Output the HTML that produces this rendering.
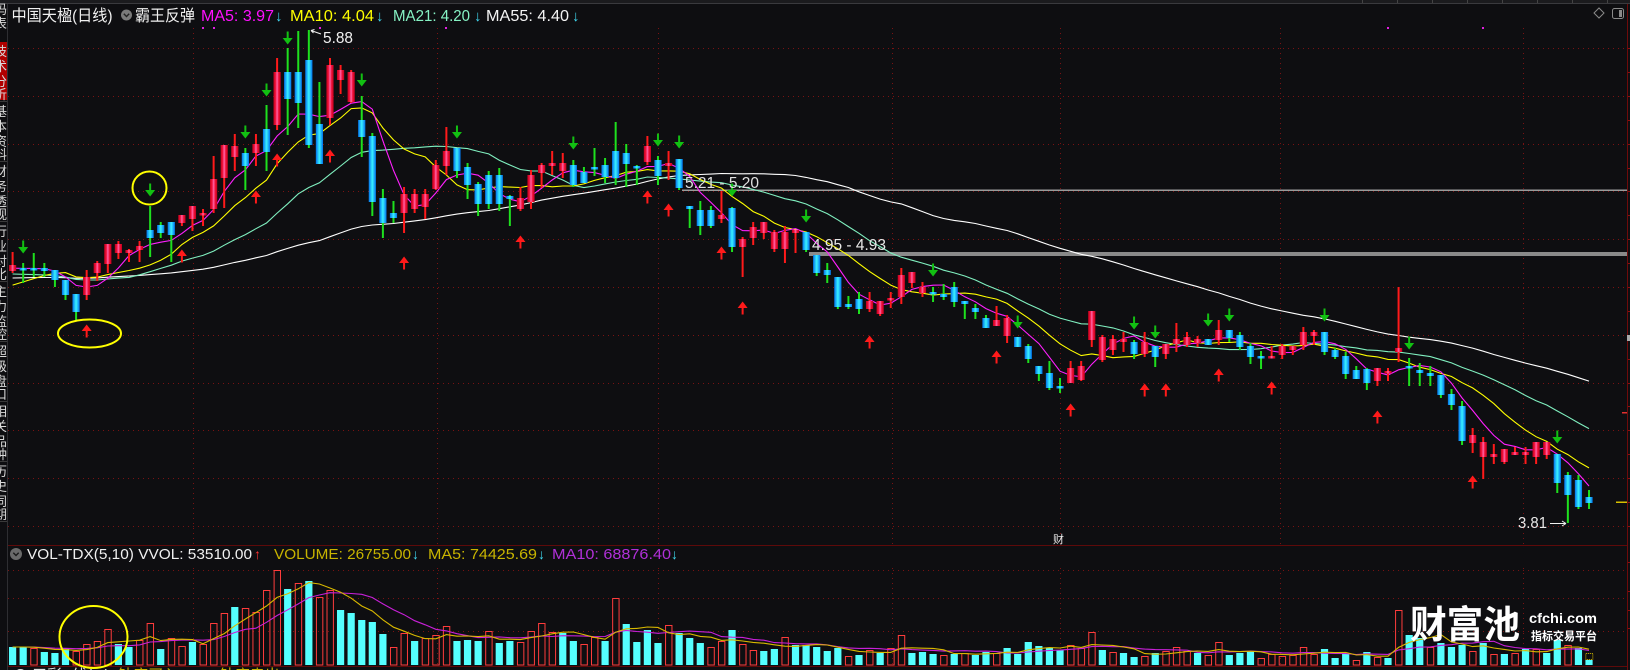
<!DOCTYPE html>
<html><head><meta charset="utf-8">
<style>
html,body{margin:0;padding:0;background:#0e0e11;}
body{width:1630px;height:670px;overflow:hidden;position:relative;}
svg{position:absolute;left:0;top:0;display:block;}
text{font-family:"Liberation Sans","Noto Sans CJK SC",sans-serif;}
</style></head><body>
<svg id="s" width="1630" height="670" viewBox="0 0 1630 670" xmlns="http://www.w3.org/2000/svg">
<defs>
<linearGradient id="gr" x1="0" x2="1" y1="0" y2="0">
<stop offset="0" stop-color="#c0001c"/><stop offset="0.28" stop-color="#f01038"/><stop offset="0.5" stop-color="#ff64a8"/><stop offset="0.72" stop-color="#f01038"/><stop offset="1" stop-color="#c0001c"/>
</linearGradient>
<linearGradient id="gb" x1="0" x2="1" y1="0" y2="0">
<stop offset="0" stop-color="#0070ec"/><stop offset="0.5" stop-color="#3af2ff"/><stop offset="1" stop-color="#0070ec"/>
</linearGradient>
<clipPath id="cm"><rect x="8" y="4" width="1619" height="541"/></clipPath>
<clipPath id="cv"><rect x="8" y="546" width="1619" height="120"/></clipPath>
<clipPath id="cl"><rect x="0" y="0" width="7" height="670"/></clipPath>
</defs>
<rect width="1630" height="670" fill="#0e0e11"/>

<!-- top strip -->
<rect x="0" y="0" width="1630" height="3" fill="#1b1b1e"/>
<line x1="0" y1="3.5" x2="1630" y2="3.5" stroke="#3a3a3e" stroke-width="1"/>

<!-- left toolbar -->
<g clip-path="url(#cl)">
<rect x="0" y="42" width="7" height="58" fill="#b00000"/>
<g fill="#d8d8d8" font-size="13">
<text x="-6" y="14">码</text><text x="-6" y="28">表</text>
<text x="-6" y="56">技</text><text x="-6" y="71">术</text><text x="-6" y="86">分</text><text x="-6" y="99">析</text>
<text x="-6" y="116">基</text><text x="-6" y="131">本</text><text x="-6" y="146">资</text><text x="-6" y="159">料</text>
<text x="-6" y="176">财</text><text x="-6" y="191">务</text><text x="-6" y="206">透</text><text x="-6" y="219">视</text>
<text x="-6" y="236">行</text><text x="-6" y="251">业</text><text x="-6" y="266">对</text><text x="-6" y="279">比</text>
<text x="-6" y="296">主</text><text x="-6" y="311">力</text><text x="-6" y="326">监</text><text x="-6" y="339">控</text>
<text x="-6" y="356">超</text><text x="-6" y="371">级</text><text x="-6" y="386">盘</text><text x="-6" y="399">口</text>
<text x="-6" y="416">相</text><text x="-6" y="431">关</text><text x="-6" y="446">品</text><text x="-6" y="459">种</text>
<text x="-6" y="476">历</text><text x="-6" y="491">史</text><text x="-6" y="506">同</text><text x="-6" y="519">期</text>
</g>
<g stroke="#3a3a3a" stroke-width="1">
<line x1="0" y1="101.5" x2="7" y2="101.5"/><line x1="0" y1="161.5" x2="7" y2="161.5"/><line x1="0" y1="221.5" x2="7" y2="221.5"/><line x1="0" y1="281.5" x2="7" y2="281.5"/><line x1="0" y1="341.5" x2="7" y2="341.5"/><line x1="0" y1="401.5" x2="7" y2="401.5"/><line x1="0" y1="461.5" x2="7" y2="461.5"/><line x1="0" y1="521.5" x2="7" y2="521.5"/>
</g>
</g>
<line x1="7.5" y1="4" x2="7.5" y2="670" stroke="#2e2e32" stroke-width="1"/>

<g id="grid"></g>
<!-- right border -->
<line x1="1627.5" y1="4" x2="1627.5" y2="670" stroke="#6e0b0b" stroke-width="1"/>
<line x1="8" y1="545.5" x2="1627" y2="545.5" stroke="#5e0a0a" stroke-width="1"/>
<line x1="8" y1="666.5" x2="1627" y2="666.5" stroke="#5e0a0a" stroke-width="1"/>

<!-- level lines -->
<rect x="682" y="189.5" width="945" height="1.5" fill="#9a9a9a"/>
<rect x="809" y="252" width="818" height="4" fill="#8a8a8a"/>

<g id="main" clip-path="url(#cm)"></g>
<g id="vol" clip-path="url(#cv)"></g>

<!-- magenta dots -->
<g fill="#e020e0">
<rect x="202" y="27" width="2" height="2"/><rect x="213" y="27" width="2" height="2"/><rect x="319" y="27" width="2" height="2"/><rect x="445" y="27" width="2" height="2"/><rect x="1387" y="27" width="2" height="2"/><rect x="1482" y="27" width="2" height="2"/>
</g>

<!-- title row -->
<text x="11.5" y="21" font-size="16" fill="#f0f0f0" textLength="101" lengthAdjust="spacingAndGlyphs">中国天楹(日线)</text>
<circle cx="126.5" cy="15" r="5.5" fill="#7a7a7a"/>
<path d="M123.8 13.8 L126.5 16.5 L129.2 13.8" stroke="#222" stroke-width="1.4" fill="none"/>
<text x="135" y="21" font-size="16" fill="#f0f0f0" textLength="60" lengthAdjust="spacingAndGlyphs">霸王反弹</text>
<text x="201" y="21" font-size="16" fill="#ff10ff" textLength="73" lengthAdjust="spacingAndGlyphs">MA5: 3.97</text>
<text x="275" y="21" font-size="15" fill="#40d8f0">↓</text>
<text x="290" y="21" font-size="16" fill="#ffff00" textLength="84" lengthAdjust="spacingAndGlyphs">MA10: 4.04</text>
<text x="376" y="21" font-size="15" fill="#40d8f0">↓</text>
<text x="393" y="21" font-size="16" fill="#86f2c4" textLength="77" lengthAdjust="spacingAndGlyphs">MA21: 4.20</text>
<text x="474" y="21" font-size="15" fill="#40d8f0">↓</text>
<text x="486" y="21" font-size="16" fill="#f4f4f4" textLength="83" lengthAdjust="spacingAndGlyphs">MA55: 4.40</text>
<text x="572" y="21" font-size="15" fill="#40d8f0">↓</text>

<!-- right top icons -->
<path d="M1599 8 L1604 13 L1599 18 L1594 13 Z" fill="none" stroke="#8a8a8a" stroke-width="1"/>
<rect x="1612.5" y="8.5" width="11" height="10" rx="2" fill="none" stroke="#8a8a8a" stroke-width="1"/>
<rect x="1619" y="10" width="3" height="7" fill="#8a8a8a"/>

<!-- price annotations -->
<text x="323" y="43" font-size="16" fill="#f0f0f0" textLength="30" lengthAdjust="spacingAndGlyphs">5.88</text>
<path d="M321 34 L311 30.5" stroke="#f0f0f0" stroke-width="1"/>
<path d="M311 30.5 L314.5 29.5 M311 30.5 L313.5 33" stroke="#f0f0f0" stroke-width="1"/>
<text x="685" y="188" font-size="16" fill="#e0e0e0" textLength="74" lengthAdjust="spacingAndGlyphs">5.21 - 5.20</text>
<text x="812" y="250" font-size="16" fill="#e8e8e8" textLength="74" lengthAdjust="spacingAndGlyphs">4.95 - 4.93</text>
<text x="1518" y="528" font-size="16" fill="#e8e8e8" textLength="29" lengthAdjust="spacingAndGlyphs">3.81</text>
<path d="M1550 523.5 L1566 523.5 M1566 523.5 L1562 521 M1566 523.5 L1562 526" stroke="#f0f0f0" stroke-width="1" fill="none"/>
<text x="1053" y="543" font-size="11" fill="#e8e8e8">财</text>

<!-- right side markers -->
<rect x="1622" y="412" width="5" height="1.5" fill="#e03030"/>
<rect x="1616" y="501.5" width="11" height="1.5" fill="#d8c000"/>
<rect x="1627" y="335" width="3" height="6" fill="#aaaaaa"/>

<!-- yellow circles -->
<g fill="none" stroke="#ffff00" stroke-width="2">
<ellipse cx="149.5" cy="188" rx="17" ry="16.5"/>
<ellipse cx="89.5" cy="333.5" rx="31.5" ry="14"/>
<ellipse cx="93.5" cy="637" rx="34" ry="31"/>
</g>

<!-- volume label row -->
<circle cx="16" cy="554" r="6" fill="#6a6a6a"/>
<path d="M13.3 552.8 L16 555.5 L18.7 552.8" stroke="#1a1a1a" stroke-width="1.4" fill="none"/>
<text x="27" y="559" font-size="15" fill="#f0f0f0" textLength="225" lengthAdjust="spacingAndGlyphs">VOL-TDX(5,10) VVOL: 53510.00</text>
<text x="254" y="559" font-size="14" fill="#ff3030">↑</text>
<text x="274" y="559" font-size="15" fill="#c8b400" textLength="137" lengthAdjust="spacingAndGlyphs">VOLUME: 26755.00</text>
<text x="412" y="559" font-size="14" fill="#40d8f0">↓</text>
<text x="428" y="559" font-size="15" fill="#c8b400" textLength="109" lengthAdjust="spacingAndGlyphs">MA5: 74425.69</text>
<text x="538" y="559" font-size="14" fill="#40d8f0">↓</text>
<text x="552" y="559" font-size="15" fill="#b030d8" textLength="119" lengthAdjust="spacingAndGlyphs">MA10: 68876.40</text>
<text x="671" y="559" font-size="14" fill="#40d8f0">↓</text>

<!-- bottom partial row -->
<text x="13" y="680" font-size="15" fill="#e0e0e0">⊙ 五彩K线(...)</text>
<text x="118" y="680" font-size="15" fill="#c8b400">钻底买入: 0.00   钻底卖出: 0.00</text>

<!-- watermark -->
<text x="1410" y="638" font-size="38" font-weight="bold" fill="#ffffff" textLength="110" lengthAdjust="spacingAndGlyphs">财富池</text>
<text x="1529" y="623" font-size="14" font-weight="bold" fill="#ffffff" textLength="68" lengthAdjust="spacingAndGlyphs">cfchi.com</text>
<text x="1531" y="640" font-size="11.5" font-weight="bold" fill="#ffffff" textLength="66" lengthAdjust="spacingAndGlyphs">指标交易平台</text>
</svg>
<script>
(function(){
const NS="http://www.w3.org/2000/svg";
function el(t,a,p){const e=document.createElementNS(NS,t);for(const k in a)e.setAttribute(k,a[k]);p.appendChild(e);return e;}
const X0=12.6,DX=10.58;
const C=[
[271,265,252,273],[268,270,263,283],[268,269,253,277],[268,271,263,277],[270,280,270,287],
[280,295,280,300],[294,312,294,320],[295,277,270,300],[273,263,261,281],[264,244,244,273],
[253,244,241,259],[253,250,249,262],[250,246,241,262],[230,238,206,257],[225,233,222,238],
[222,235,222,262],[223,215,215,226],[219,206,206,231],[215,213,209,226],[209,179,156,213],
[178,145,145,208],[157,146,134,171],[153,166,148,190],[153,144,134,166],[129,152,105,171],
[125,72,58,130],[72,99,48,135],[72,103,31,128],[60,145,30,148],[124,164,82,164],
[118,65,58,125],[80,70,65,94],[102,72,70,103],[120,137,96,157],[136,202,133,216],
[198,223,189,238],[213,218,201,223],[213,194,187,233],[209,194,189,213],[207,194,189,219],
[189,165,160,190],[166,151,127,175],[148,171,148,178],[167,185,163,199],[184,204,182,216],
[175,204,171,209],[175,204,168,211],[196,199,195,226],[209,198,187,211],[202,175,170,209],
[173,165,163,188],[166,163,151,175],[171,163,153,178],[165,185,160,187],[172,183,167,183],
[167,169,148,176],[165,177,158,183],[151,178,122,185],[153,164,144,187],[166,168,165,185],
[162,146,136,165],[160,176,156,185],[166,163,151,180],[159,188,159,190],[206,209,206,228],
[210,226,201,235],[210,226,206,228],[219,215,191,223],[208,247,207,252],[247,239,237,277],
[238,227,222,245],[233,222,222,239],[249,232,230,252],[249,232,226,263],[233,230,230,253],
[232,250,232,252],[255,273,255,276],[270,275,263,283],[277,307,277,309],[304,307,296,309],
[299,309,292,314],[309,301,292,312],[314,301,301,316],[300,298,292,308],[297,275,268,304],
[283,272,272,288],[293,287,282,297],[292,294,287,302],[294,297,284,300],[287,302,282,307],
[301,304,301,319],[308,312,304,319],[318,328,315,328],[326,320,306,326],[336,318,315,343],
[337,347,337,347],[346,359,344,363],[366,374,366,381],[373,388,361,390],[386,388,378,393],
[383,368,361,383],[380,366,361,381],[340,311,311,347],[360,337,335,362],[350,339,335,355],
[342,339,332,352],[342,354,340,359],[354,342,332,357],[346,357,346,367],[354,344,344,359],
[344,339,323,352],[345,337,332,347],[343,339,336,347],[339,345,339,345],[340,330,320,345],
[330,338,330,342],[335,347,332,350],[346,357,343,364],[356,357,351,369],[358,356,346,358],
[355,346,344,359],[350,346,346,355],[345,332,327,350],[336,332,330,345],[332,352,332,355],
[350,357,348,359],[356,374,352,379],[370,379,366,379],[369,383,368,390],[381,368,368,386],
[373,371,368,381],[352,348,287,362],[366,367,358,386],[370,373,363,386],[373,376,366,386],
[375,395,375,398],[394,405,389,410],[406,441,401,445],[443,435,428,453],[457,442,437,479],
[457,454,444,464],[462,449,449,464],[455,452,447,455],[455,452,447,464],[457,442,442,464],
[455,442,442,459],[454,483,454,493],[475,495,472,523],[480,507,475,509],[497,503,490,509]
];
const VT=[647,647,648,652,653,648,651,644,641,629,
644,647,640,623,649,638,646,642,644,623,
613,607,608,612,590,570,589,583,581,597,
590,610,613,620,622,634,647,633,641,638,
635,626,641,640,641,631,643,641,642,631,
623,632,633,641,644,637,641,598,624,642,
630,643,625,633,638,643,647,641,630,644,
650,651,649,637,645,645,647,651,648,656,
655,650,653,648,635,653,652,654,655,654,
653,655,652,653,648,654,642,646,648,650,
645,648,632,650,652,653,657,656,653,651,
647,651,653,655,642,655,653,651,658,654,
656,655,647,654,649,658,654,660,652,657,
658,610,635,638,647,643,647,645,651,643,
654,654,653,649,649,653,640,645,648,660];
const VC="ccrcccrrrr"+"ccrrcrrcrr"+"rcrrrrcrcr"+"rcccccrrcr"+"rrcccrccrr"+"rrccrrcrcc"+"ccrcccrrcr"+"rccrcccccr"+"crcrrcccrc"+"rccrcccccc"+"rrrcrccrcr"+"rrcrrcccrr"+"rrrrcccrcr"+"crccrcccrc"+"rcrcrccrcc";
const RA=[[7,331],[16,256],[23,197],[25,160],[30,156],[37,263],[48,242],[60,197],[62,210],[67,253],[69,308],[81,342],[93,357],[100,410],[107,390],[109,390],[114,375],[119,388],[129,417],[138,482]];
const GA=[[1,247],[13,190],[22,132],[24,90],[26,38],[33,80],[42,132],[53,143],[61,140],[63,142],[68,190],[75,216],[87,270],[95,322],[106,323],[108,332],[113,320],[115,315],[124,315],[132,343],[146,437]];

const grid=document.getElementById('grid');
const gc="#7a1212";
const hY=[48,95.8,143.6,191.4,239.2,287,334.8,382.6,430.4,478.2,526];
hY.forEach(y=>el('line',{x1:8,x2:1627,y1:Math.round(y)+0.5,y2:Math.round(y)+0.5,stroke:gc,'stroke-width':1,'stroke-dasharray':'1 4'},grid));
[570,598,631].forEach(y=>el('line',{x1:8,x2:1627,y1:y+0.5,y2:y+0.5,stroke:gc,'stroke-width':1,'stroke-dasharray':'1 4'},grid));
[193,437,658,892,1060,1280,1523].forEach(x=>{
 el('line',{x1:x+0.5,x2:x+0.5,y1:28,y2:545,stroke:gc,'stroke-width':1,'stroke-dasharray':'1 4'},grid);
 el('line',{x1:x+0.5,x2:x+0.5,y1:568,y2:665,stroke:gc,'stroke-width':1,'stroke-dasharray':'1 4'},grid);
});
for(let y=48;y<545;y+=23.9){el('line',{x1:1627,x2:1630,y1:Math.round(y)+0.5,y2:Math.round(y)+0.5,stroke:'#8b1010','stroke-width':1},grid);}
[562,591,610,628].forEach(y=>el('line',{x1:1627,x2:1630,y1:y+0.5,y2:y+0.5,stroke:'#8b1010','stroke-width':1},grid));
const tx=[1362,1397,1432,1467,1502,1537,1572,1607];
tx.forEach(x=>el('line',{x1:x+0.5,x2:x+0.5,y1:0,y2:3,stroke:'#444','stroke-width':1},grid));

const main=document.getElementById('main');
// MAs
const pre=[];for(let k=0;k<34;k++)pre.push(280.5);for(let k=0;k<11;k++)pre.push(264);for(let k=0;k<5;k++)pre.push(302);for(let k=0;k<4;k++)pre.push(269);
const all=pre.concat(C.map(c=>c[1]));
function ma(arr,off,n,i){let s=0;for(let k=0;k<n;k++)s+=arr[off+i-k];return s/n;}
[[55,'#ffffff'],[21,'#80f0c0'],[10,'#ffff00'],[5,'#ff20ff']].forEach(([n,col])=>{
 let pts=[];for(let i=0;i<C.length;i++){pts.push((X0+i*DX).toFixed(1)+','+ma(all,54,n,i).toFixed(1));}
 el('polyline',{points:pts.join(' '),fill:'none',stroke:col,'stroke-width':1.1},main);
});
C.forEach((c,i)=>{
 const x=X0+i*DX;const o=c[0],cl=c[1],h=c[2],l=c[3];const up=cl<o;
 el('line',{x1:x,x2:x,y1:h,y2:l,stroke:up?'#ff1a1a':'#1ee01e','stroke-width':2},main);
 const top=Math.min(o,cl),bot=Math.max(o,cl);const ht=Math.max(bot-top,2.5);
 el('rect',{x:x-3.6,y:top,width:7.2,height:ht,fill:up?'url(#gr)':'url(#gb)'},main);
});
RA.forEach(([i,y])=>{const x=X0+i*DX;
 el('path',{d:`M${x-5} ${y} L${x+5} ${y} L${x} ${y-6.5} Z`,fill:'#ff1a1a'},main);
 el('rect',{x:x-1,y:y,width:2,height:6.5,fill:'#ff1a1a'},main);});
GA.forEach(([i,y])=>{const x=X0+i*DX;
 el('path',{d:`M${x-5} ${y} L${x+5} ${y} L${x} ${y+6.5} Z`,fill:'#12c012'},main);
 el('rect',{x:x-1,y:y-6.5,width:2,height:6.5,fill:'#12c012'},main);});

const vol=document.getElementById('vol');
const B=665;
VT.forEach((t,i)=>{const x=X0+i*DX;
 if(VC[i]==='r'){el('rect',{x:x-3,y:t+0.5,width:6.4,height:B-t-0.5,fill:'none',stroke:'#ff3c3c','stroke-width':1},vol);}
 else{el('rect',{x:x-3.6,y:t,width:7.2,height:B-t,fill:'#55ffff'},vol);}
});
el('rect',{x:1585.8,y:653.5,width:7,height:6,fill:'none',stroke:'#d8c000','stroke-width':1,'stroke-dasharray':'1 1'},vol);
const H=VT.map(t=>B-t);const vpre=[18,18,18,18,18,18,18,18,18];const vall=vpre.concat(H);
[[10,'#c820d8'],[5,'#d8b800']].forEach(([n,col])=>{
 let pts=[];for(let i=0;i<VT.length;i++){pts.push((X0+i*DX).toFixed(1)+','+(B-ma(vall,9,n,i)).toFixed(1));}
 el('polyline',{points:pts.join(' '),fill:'none',stroke:col,'stroke-width':1.1},vol);
});
})();
</script>
</body></html>
